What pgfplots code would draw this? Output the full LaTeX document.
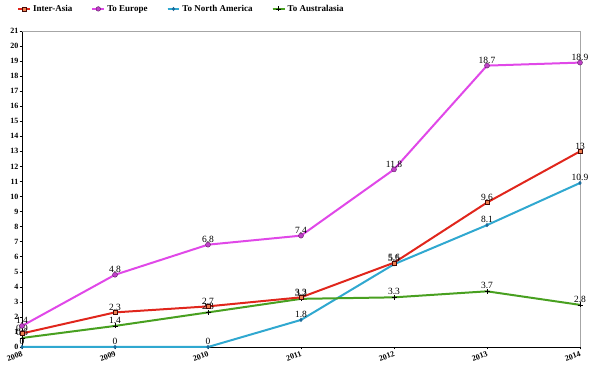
\documentclass[border=0pt]{standalone}
\usepackage{pgfplots}
\pgfplotsset{compat=1.18}
\usepackage{fontspec}
\setmainfont{Liberation Serif}
\definecolor{cIA}{HTML}{E0261C}
\definecolor{cIAm}{HTML}{F08050}
\definecolor{cEU}{HTML}{E048E8}
\definecolor{cEUm}{HTML}{C040C8}
\definecolor{cNA}{HTML}{30A8D0}
\definecolor{cNAm}{HTML}{1C6A9A}
\definecolor{cAU}{HTML}{48A020}
\begin{document}
\begin{tikzpicture}
\begin{axis}[
  scale only axis, width=558pt, height=316pt,
  xmin=2008, xmax=2014, ymin=0, ymax=21,
  xtick={2008,...,2014}, ytick={0,...,21},
  axis x line*=bottom, axis y line*=left,
  axis line style={black, line width=0.9pt},
  tick style={black, line width=0.5pt},
  tick align=outside, major tick length=2.5pt,
  xticklabel style={font=\bfseries\fontsize{8}{9}\selectfont, rotate=20, anchor=north east, inner sep=1pt},
  yticklabel style={font=\bfseries\fontsize{8}{9}\selectfont, inner sep=1pt},
  /pgf/number format/assume math mode=true,
  /pgf/number format/.cd, 1000 sep={}, /pgfplots/.cd,
  clip=false,
  nodes near coords,
  nodes near coords style={font=\fontsize{9.5}{10}\selectfont, black, anchor=south, inner sep=2pt, /pgf/number format/assume math mode=true},
  every axis plot/.append style={line width=2pt},
]
\path (rel axis cs:0,0) ++(-22pt,-25pt) coordinate (bbA);
\path (rel axis cs:1,1) ++(20pt,31pt) coordinate (bbB);
\path (bbA) rectangle (bbB);
\draw[gray!70, line width=0.9pt] (rel axis cs:0,1) -- (rel axis cs:1,1) -- (rel axis cs:1,0);
\addplot[cNA, mark=diamond*, mark size=1.8pt, mark options={fill=cNAm, draw=cNAm, line width=0.4pt}] coordinates {(2008,0) (2009,0) (2010,0) (2011,1.8) (2012,5.5) (2013,8.1) (2014,10.9)};
\addplot[cAU, mark=+, mark size=2.5pt, mark options={black, line width=0.6pt}] coordinates {(2008,0.6) (2009,1.4) (2010,2.3) (2011,3.2) (2012,3.3) (2013,3.7) (2014,2.8)};
\addplot[cIA, mark=square*, mark size=2pt, mark options={fill=cIAm, draw=black!70!cIA, line width=0.4pt}] coordinates {(2008,0.9) (2009,2.3) (2010,2.7) (2011,3.3) (2012,5.6) (2013,9.6) (2014,13)};
\addplot[cEU, mark=*, mark size=2.5pt, mark options={fill=cEUm, draw=black!60!cEU, line width=0.4pt}] coordinates {(2008,1.4) (2009,4.8) (2010,6.8) (2011,7.4) (2012,11.8) (2013,18.7) (2014,18.9)};
\end{axis}
\begin{axis}[
  scale only axis, width=558pt, height=316pt,
  xmin=2008, xmax=2014, ymin=0, ymax=21, hide axis,
  legend columns=4,
  legend style={draw=none, fill=none, at={(0,1)}, anchor=south west, yshift=14pt, xshift=-8pt,
    font=\bfseries\fontsize{9}{10}\selectfont, /tikz/every even column/.append style={column sep=17pt}},
  legend image code/.code={\draw[#1] (0cm,0cm) -- (0.42cm,0cm); \draw[#1, mark repeat=2, mark phase=2] plot coordinates {(0cm,0cm) (0.21cm,0cm) (0.42cm,0cm)};},
]
\addlegendimage{cIA, line width=2pt, mark=square*, mark size=2pt, mark options={fill=cIAm, draw=black!70!cIA, line width=0.4pt}}
\addlegendentry{Inter-Asia}
\addlegendimage{cEU, line width=2pt, mark=*, mark size=2.3pt, mark options={fill=cEUm, draw=black!60!cEU, line width=0.4pt}}
\addlegendentry{To Europe}
\addlegendimage{cNA, line width=2pt, mark=diamond*, mark size=1.8pt, mark options={fill=cNAm, draw=cNAm, line width=0.4pt}}
\addlegendentry{To North America}
\addlegendimage{cAU, line width=2pt, mark=+, mark size=2.5pt, mark options={black, line width=0.6pt}}
\addlegendentry{To Australasia}
\end{axis}
\end{tikzpicture}
\end{document}
